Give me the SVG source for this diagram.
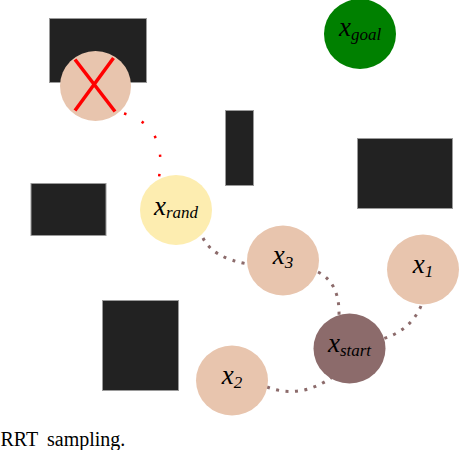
<svg xmlns="http://www.w3.org/2000/svg" width="460" height="450" viewBox="0 0 460 450">
<style>
.obs{fill:#222222;stroke:#9a9a9a;stroke-width:1}
.peach{fill:#e8c5ae}
.lbl{font-family:"Liberation Serif","Times New Roman",serif;font-style:italic;font-size:27px;fill:#000;text-anchor:middle}
.sub{font-size:17px}
.edge{fill:none;stroke:#8c6b6b;stroke-width:3;stroke-dasharray:3 6.5}
.redge{fill:none;stroke:#ff0000;stroke-width:2.5;stroke-dasharray:2.5 17}
</style>
<rect width="460" height="450" fill="#fff"/>
<g id="obstacles">
<rect class="obs" x="49.5" y="18.5" width="97" height="64"/>
<rect class="obs" x="225.5" y="110.5" width="28" height="75"/>
<rect class="obs" x="357.5" y="138.5" width="95" height="70"/>
<rect class="obs" x="31" y="183.5" width="75" height="52"/>
<rect class="obs" x="102.5" y="300.5" width="76" height="90"/>
</g>
<g id="connectors">
<path class="redge" d="M124 113.5 C150 121 166 140 158.5 180"/>
<path class="edge" d="M203 238 Q213 258 248 264"/>
<path class="edge" d="M318 272 Q340 283 339 316"/>
<path class="edge" d="M421 306 Q410 331 382 339"/>
<path class="edge" d="M267 387 Q302 400 335 375"/>
</g>
<g id="x_rejected">
<ellipse class="peach" cx="95.5" cy="86" rx="35.5" ry="35"/>
<line x1="75" y1="59.5" x2="115" y2="111.5" stroke="#ff0000" stroke-width="3.5"/>
<line x1="113.5" y1="58" x2="75" y2="110.5" stroke="#ff0000" stroke-width="3.5"/>
</g>
<g id="x_goal">
<ellipse cx="360" cy="34" rx="36" ry="35" fill="#008000"/>
<text class="lbl" x="360" y="36">x<tspan class="sub" dy="4">goal</tspan></text>
</g>
<g id="x_rand">
<ellipse cx="176" cy="210" rx="36" ry="35" fill="#fdedb0"/>
<text class="lbl" x="176" y="215">x<tspan class="sub" dy="3">rand</tspan></text>
</g>
<g id="x_3">
<ellipse class="peach" cx="283" cy="260.5" rx="36" ry="35"/>
<text class="lbl" x="283" y="264">x<tspan class="sub" dy="4">3</tspan></text>
</g>
<g id="x_1">
<ellipse class="peach" cx="423" cy="269.5" rx="36" ry="35"/>
<text class="lbl" x="423" y="273">x<tspan class="sub" dy="4">1</tspan></text>
</g>
<g id="x_start">
<ellipse cx="349.5" cy="348.5" rx="36" ry="35" fill="#8c6b6b"/>
<text class="lbl" x="349.5" y="352">x<tspan class="sub" dy="4">start</tspan></text>
</g>
<g id="x_2">
<ellipse class="peach" cx="232" cy="380.5" rx="36" ry="35"/>
<text class="lbl" x="232" y="384">x<tspan class="sub" dy="4">2</tspan></text>
</g>
<text x="0.5" y="446" font-family="'Liberation Serif','Times New Roman',serif" font-size="20" fill="#000">RRT<tspan x="47">sampling.</tspan></text>
</svg>
